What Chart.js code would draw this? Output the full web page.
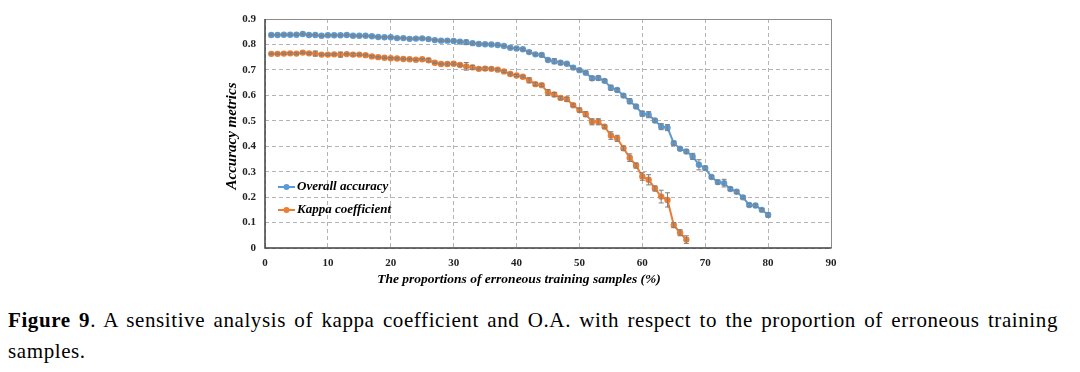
<!DOCTYPE html>
<html>
<head>
<meta charset="utf-8">
<script src="https://cdn.jsdelivr.net/npm/chart.js@4.4.0/dist/chart.umd.min.js"></script>
<style>
  html, body { margin:0; padding:0; background:#fff; }
  body { width:1080px; height:372px; position:relative; overflow:hidden; }
  #wrap { position:absolute; left:0; top:0; width:1080px; height:295px; }
  #caption { position:absolute; left:8px; top:305px; width:1050px;
    font-family:"Liberation Serif","Times New Roman",serif; font-size:21px; letter-spacing:0.6px;
    line-height:31px; color:#000; }
  #caption .l1 { text-align:justify; text-align-last:justify; }
</style>
</head>
<body>
<div id="wrap"><canvas id="chart" width="1080" height="295"></canvas></div>
<div id="caption">
  <div class="l1"><b>Figure 9</b>. A sensitive analysis of kappa coefficient and O.A. with respect to the proportion of erroneous training</div>
  <div>samples.</div>
</div>
<script>
const proportions = [1,2,3,4,5,6,7,8,9,10,11,12,13,14,15,16,17,18,19,20,
  21,22,23,24,25,26,27,28,29,30,31,32,33,34,35,36,37,38,39,40,
  41,42,43,44,45,46,47,48,49,50,51,52,53,54,55,56,57,58,59,60,
  61,62,63,64,65,66,67,68,69,70,71,72,73,74,75,76,77,78,79,80];

const overallAcc = [0.837,0.837,0.838,0.838,0.838,0.841,0.837,0.837,0.834,0.836,
  0.836,0.836,0.837,0.834,0.834,0.834,0.832,0.829,0.828,0.828,
  0.825,0.825,0.822,0.823,0.824,0.821,0.817,0.815,0.815,0.814,
  0.811,0.809,0.805,0.802,0.801,0.800,0.798,0.794,0.787,0.784,
  0.781,0.770,0.761,0.759,0.739,0.734,0.728,0.724,0.709,0.699,
  0.689,0.667,0.668,0.657,0.630,0.621,0.599,0.577,0.556,0.528,
  0.524,0.501,0.477,0.473,0.412,0.390,0.379,0.360,0.327,0.314,
  0.279,0.259,0.255,0.232,0.221,0.199,0.169,0.167,0.150,0.130];

const overallErr = [0.003,0.003,0.003,0.003,0.003,0.003,0.003,0.003,0.003,0.003,
  0.003,0.003,0.003,0.003,0.003,0.003,0.003,0.003,0.003,0.003,
  0.003,0.003,0.003,0.003,0.003,0.003,0.003,0.003,0.003,0.004,
  0.004,0.008,0.004,0.004,0.003,0.003,0.003,0.003,0.003,0.004,
  0.004,0.004,0.004,0.005,0.004,0.010,0.006,0.004,0.005,0.004,
  0.004,0.008,0.008,0.005,0.010,0.006,0.005,0.010,0.006,0.010,
  0.012,0.006,0.012,0.012,0.008,0.005,0.006,0.012,0.020,0.008,
  0.005,0.008,0.015,0.006,0.006,0.005,0.006,0.006,0.005,0.008];

const kappa = [0.763,0.763,0.764,0.765,0.764,0.768,0.765,0.764,0.760,0.760,
  0.761,0.760,0.762,0.760,0.760,0.758,0.753,0.750,0.748,0.746,
  0.745,0.743,0.742,0.740,0.742,0.738,0.728,0.723,0.723,0.724,
  0.719,0.714,0.710,0.704,0.705,0.704,0.701,0.694,0.684,0.678,
  0.673,0.659,0.644,0.640,0.611,0.603,0.590,0.585,0.561,0.542,
  0.526,0.496,0.496,0.477,0.442,0.431,0.392,0.355,0.324,0.281,
  0.268,0.234,0.202,0.189,0.090,0.060,0.033];

const kappaErr = [0.003,0.003,0.003,0.003,0.003,0.003,0.003,0.010,0.003,0.003,
  0.003,0.010,0.003,0.005,0.003,0.003,0.003,0.003,0.003,0.003,
  0.003,0.003,0.003,0.003,0.003,0.006,0.003,0.003,0.004,0.004,
  0.004,0.015,0.008,0.004,0.006,0.004,0.004,0.004,0.004,0.004,
  0.004,0.010,0.006,0.005,0.012,0.008,0.005,0.008,0.005,0.008,
  0.010,0.012,0.012,0.006,0.015,0.012,0.008,0.015,0.010,0.015,
  0.020,0.010,0.025,0.028,0.010,0.012,0.015];

const xTicks = [0,10,20,30,40,50,60,70,80,90];
const yTicks = [0,0.1,0.2,0.3,0.4,0.5,0.6,0.7,0.8,0.9];

const BLUE = '#5b9bd5';
const ORANGE = '#ed7d31';

function toPoints(vals) {
  return vals.map((v, i) => ({ x: proportions[i], y: v }));
}

const errors = [overallErr, kappaErr];

const errorBars = {
  id: 'errorBars',
  afterDatasetsDraw(chart) {
    const ctx = chart.ctx;
    const xs = chart.scales.x, ys = chart.scales.y;
    ctx.save();
    ctx.strokeStyle = '#7f7f7f';
    ctx.lineWidth = 1;
    chart.data.datasets.forEach((ds, di) => {
      const err = errors[di];
      ds.data.forEach((p, i) => {
        const px = xs.getPixelForValue(p.x);
        const top = ys.getPixelForValue(p.y + err[i]);
        const bot = ys.getPixelForValue(p.y - err[i]);
        ctx.beginPath();
        ctx.moveTo(px, top); ctx.lineTo(px, bot);
        ctx.moveTo(px - 2.5, top); ctx.lineTo(px + 2.5, top);
        ctx.moveTo(px - 2.5, bot); ctx.lineTo(px + 2.5, bot);
        ctx.stroke();
      });
    });
    ctx.restore();
  }
};

const frame = {
  id: 'frame',
  beforeDatasetsDraw(chart) {
    const { ctx, chartArea: a } = chart;
    ctx.save();
    ctx.lineWidth = 1;
    ctx.strokeStyle = '#8c8c8c';
    ctx.beginPath();
    ctx.moveTo(a.left, a.top + 0.5); ctx.lineTo(a.right + 0.5, a.top + 0.5);
    ctx.lineTo(a.right + 0.5, a.bottom);
    ctx.stroke();
    ctx.strokeStyle = '#404040';
    ctx.lineWidth = 1.5;
    ctx.beginPath();
    ctx.moveTo(a.left, a.top); ctx.lineTo(a.left, a.bottom); ctx.lineTo(a.right + 0.5, a.bottom);
    ctx.stroke();
    ctx.restore();
  },
  afterDraw(chart) {
    const { ctx } = chart;
    ctx.save();
    ctx.fillStyle = '#000';
    ctx.textBaseline = 'middle';
    ctx.textAlign = 'center';
    ctx.font = 'italic bold 13.5px "Liberation Serif", serif';
    ctx.fillText('The proportions of erroneous training samples (%)', 519, 280);
    ctx.font = 'italic bold 15px "Liberation Serif", serif';
    ctx.translate(232, 136);
    ctx.rotate(-Math.PI / 2);
    ctx.fillText('Accuracy metrics', 0, 0);
    ctx.restore();

    // legend
    const items = [['Overall accuracy', BLUE, 187], ['Kappa coefficient', ORANGE, 210]];
    ctx.save();
    ctx.font = 'italic bold 13px "Liberation Serif", serif';
    ctx.textBaseline = 'middle';
    items.forEach(([label, col, y]) => {
      ctx.strokeStyle = col;
      ctx.lineWidth = 2;
      ctx.beginPath(); ctx.moveTo(278, y); ctx.lineTo(295, y); ctx.stroke();
      ctx.fillStyle = col;
      ctx.beginPath(); ctx.arc(286.5, y, 3, 0, Math.PI * 2); ctx.fill();
      ctx.fillStyle = '#000';
      ctx.fillText(label, 297, y);
    });
    ctx.restore();
  }
};

new Chart(document.getElementById('chart'), {
  type: 'line',
  data: {
    datasets: [
      { label: 'Overall accuracy', data: toPoints(overallAcc), borderColor: BLUE, backgroundColor: BLUE,
        borderWidth: 2, pointRadius: 3.2, pointBorderWidth: 0, tension: 0 },
      { label: 'Kappa coefficient', data: toPoints(kappa), borderColor: ORANGE, backgroundColor: ORANGE,
        borderWidth: 2, pointRadius: 3.2, pointBorderWidth: 0, tension: 0 }
    ]
  },
  options: {
    responsive: false,
    animation: false,
    layout: { padding: { left: 215, right: 249, top: 19, bottom: 0 } },
    plugins: { legend: { display: false }, tooltip: { enabled: false } },
    scales: {
      x: {
        type: 'linear', min: 0, max: 90,
        afterBuildTicks: s => { s.ticks = xTicks.map(v => ({ value: v })); },
        afterFit: s => { s.height = 47; },
        grid: { color: '#b4b4b4', lineWidth: 1, drawTicks: false },
        border: { display: false, dash: [4, 3] },
        ticks: { padding: 9, color: '#222', font: { family: '"Liberation Serif", serif', weight: 'bold', size: 11 } }
      },
      y: {
        min: 0, max: 0.9,
        afterBuildTicks: s => { s.ticks = yTicks.map(v => ({ value: v })); },
        afterFit: s => { s.width = 50; },
        grid: { color: '#b4b4b4', lineWidth: 1, drawTicks: false },
        border: { display: false, dash: [4, 3] },
        ticks: { padding: 9, color: '#222', callback: v => v === 0 ? '0' : v.toFixed(1),
          font: { family: '"Liberation Serif", serif', weight: 'bold', size: 11 } }
      }
    }
  },
  plugins: [frame, errorBars]
});
</script>
</body>
</html>
